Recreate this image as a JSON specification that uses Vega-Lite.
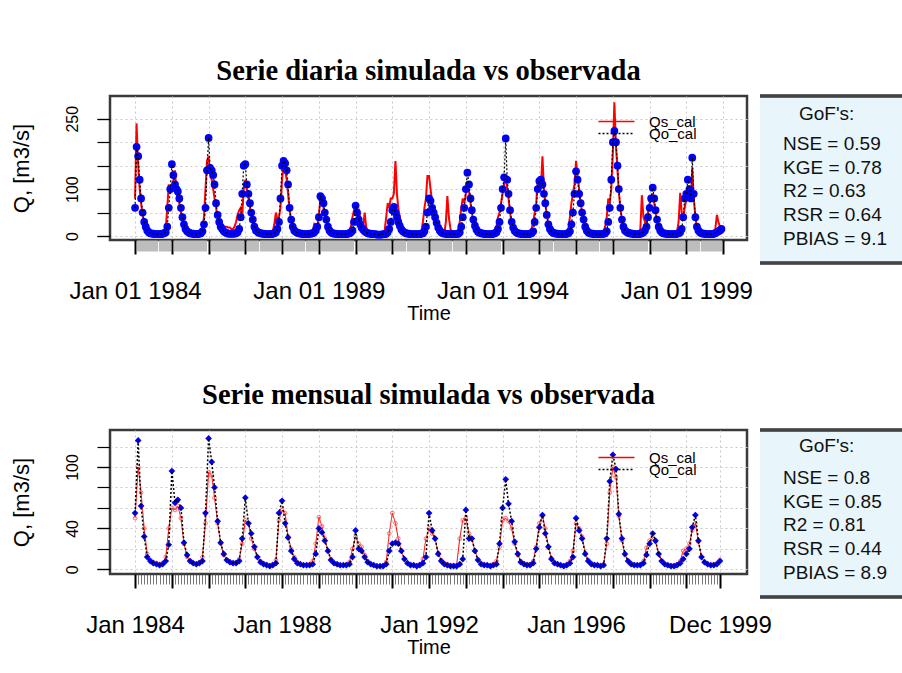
{
"$schema":"https://vega.github.io/schema/vega-lite/v6.json",
"background":"white",
"padding":{"left":8,"top":55,"right":0,"bottom":8},
"columns":2,
"spacing":{"row":167,"column":13},
"bounds":"flush",
"resolve":{"scale":{"color":"independent","strokeDash":"independent"}},
"config":{"font":"Liberation Sans","view":{"stroke":"#3a3a3a","strokeWidth":2.5},
"axis":{"labelFont":"Liberation Sans","titleFont":"Liberation Sans","labelColor":"black","titleColor":"black","titleFontWeight":"normal"}},
"datasets":{
"daily":[
{"date":"1984-01-01","Qs_cal":80,"Qo_cal":60},{"date":"1984-01-16","Qs_cal":240,"Qo_cal":190},{"date":"1984-02-01","Qs_cal":150,"Qo_cal":170},{"date":"1984-02-16","Qs_cal":100,"Qo_cal":120},{"date":"1984-03-01","Qs_cal":70,"Qo_cal":80},{"date":"1984-03-16","Qs_cal":45,"Qo_cal":50},{"date":"1984-04-01","Qs_cal":28,"Qo_cal":30},{"date":"1984-04-16","Qs_cal":18,"Qo_cal":20},{"date":"1984-05-01","Qs_cal":12,"Qo_cal":12},{"date":"1984-05-16","Qs_cal":9,"Qo_cal":8},{"date":"1984-06-01","Qs_cal":7,"Qo_cal":6},{"date":"1984-06-16","Qs_cal":6,"Qo_cal":5},{"date":"1984-07-01","Qs_cal":5,"Qo_cal":5},{"date":"1984-07-16","Qs_cal":5,"Qo_cal":4},{"date":"1984-08-01","Qs_cal":4,"Qo_cal":4},{"date":"1984-08-16","Qs_cal":4,"Qo_cal":4},{"date":"1984-09-01","Qs_cal":4,"Qo_cal":4},{"date":"1984-09-16","Qs_cal":5,"Qo_cal":4},{"date":"1984-10-01","Qs_cal":6,"Qo_cal":5},{"date":"1984-10-16","Qs_cal":8,"Qo_cal":6},{"date":"1984-11-01","Qs_cal":15,"Qo_cal":8},{"date":"1984-11-16","Qs_cal":60,"Qo_cal":20},{"date":"1984-12-01","Qs_cal":110,"Qo_cal":60},{"date":"1984-12-16","Qs_cal":90,"Qo_cal":100},
{"date":"1985-01-01","Qs_cal":100,"Qo_cal":153},{"date":"1985-01-16","Qs_cal":120,"Qo_cal":130},{"date":"1985-02-01","Qs_cal":140,"Qo_cal":110},{"date":"1985-02-16","Qs_cal":90,"Qo_cal":100},{"date":"1985-03-01","Qs_cal":80,"Qo_cal":95},{"date":"1985-03-16","Qs_cal":70,"Qo_cal":80},{"date":"1985-04-01","Qs_cal":50,"Qo_cal":60},{"date":"1985-04-16","Qs_cal":35,"Qo_cal":40},{"date":"1985-05-01","Qs_cal":22,"Qo_cal":25},{"date":"1985-05-16","Qs_cal":14,"Qo_cal":15},{"date":"1985-06-01","Qs_cal":10,"Qo_cal":10},{"date":"1985-06-16","Qs_cal":8,"Qo_cal":8},{"date":"1985-07-01","Qs_cal":6,"Qo_cal":6},{"date":"1985-07-16","Qs_cal":5,"Qo_cal":5},{"date":"1985-08-01","Qs_cal":5,"Qo_cal":5},{"date":"1985-08-16","Qs_cal":5,"Qo_cal":4},{"date":"1985-09-01","Qs_cal":5,"Qo_cal":4},{"date":"1985-09-16","Qs_cal":5,"Qo_cal":4},{"date":"1985-10-01","Qs_cal":6,"Qo_cal":5},{"date":"1985-10-16","Qs_cal":10,"Qo_cal":6},{"date":"1985-11-01","Qs_cal":20,"Qo_cal":10},{"date":"1985-11-16","Qs_cal":40,"Qo_cal":25},{"date":"1985-12-01","Qs_cal":100,"Qo_cal":60},{"date":"1985-12-16","Qs_cal":160,"Qo_cal":140},
{"date":"1986-01-01","Qs_cal":170,"Qo_cal":209},{"date":"1986-01-16","Qs_cal":130,"Qo_cal":145},{"date":"1986-02-01","Qs_cal":120,"Qo_cal":140},{"date":"1986-02-16","Qs_cal":100,"Qo_cal":130},{"date":"1986-03-01","Qs_cal":80,"Qo_cal":110},{"date":"1986-03-16","Qs_cal":60,"Qo_cal":70},{"date":"1986-04-01","Qs_cal":40,"Qo_cal":45},{"date":"1986-04-16","Qs_cal":30,"Qo_cal":30},{"date":"1986-05-01","Qs_cal":25,"Qo_cal":20},{"date":"1986-05-16","Qs_cal":20,"Qo_cal":15},{"date":"1986-06-01","Qs_cal":20,"Qo_cal":10},{"date":"1986-06-16","Qs_cal":20,"Qo_cal":8},{"date":"1986-07-01","Qs_cal":20,"Qo_cal":6},{"date":"1986-07-16","Qs_cal":18,"Qo_cal":5},{"date":"1986-08-01","Qs_cal":18,"Qo_cal":5},{"date":"1986-08-16","Qs_cal":15,"Qo_cal":5},{"date":"1986-09-01","Qs_cal":15,"Qo_cal":5},{"date":"1986-09-16","Qs_cal":20,"Qo_cal":5},{"date":"1986-10-01","Qs_cal":30,"Qo_cal":6},{"date":"1986-10-16","Qs_cal":45,"Qo_cal":8},{"date":"1986-11-01","Qs_cal":55,"Qo_cal":15},{"date":"1986-11-16","Qs_cal":60,"Qo_cal":40},{"date":"1986-12-01","Qs_cal":40,"Qo_cal":90},{"date":"1986-12-16","Qs_cal":100,"Qo_cal":150},
{"date":"1987-01-01","Qs_cal":120,"Qo_cal":153},{"date":"1987-01-16","Qs_cal":100,"Qo_cal":110},{"date":"1987-02-01","Qs_cal":80,"Qo_cal":90},{"date":"1987-02-16","Qs_cal":60,"Qo_cal":70},{"date":"1987-03-01","Qs_cal":45,"Qo_cal":50},{"date":"1987-03-16","Qs_cal":30,"Qo_cal":35},{"date":"1987-04-01","Qs_cal":20,"Qo_cal":20},{"date":"1987-04-16","Qs_cal":14,"Qo_cal":12},{"date":"1987-05-01","Qs_cal":10,"Qo_cal":9},{"date":"1987-05-16","Qs_cal":8,"Qo_cal":7},{"date":"1987-06-01","Qs_cal":7,"Qo_cal":6},{"date":"1987-06-16","Qs_cal":6,"Qo_cal":5},{"date":"1987-07-01","Qs_cal":5,"Qo_cal":5},{"date":"1987-07-16","Qs_cal":5,"Qo_cal":4},{"date":"1987-08-01","Qs_cal":5,"Qo_cal":4},{"date":"1987-08-16","Qs_cal":5,"Qo_cal":4},{"date":"1987-09-01","Qs_cal":5,"Qo_cal":4},{"date":"1987-09-16","Qs_cal":6,"Qo_cal":4},{"date":"1987-10-01","Qs_cal":10,"Qo_cal":5},{"date":"1987-10-16","Qs_cal":25,"Qo_cal":6},{"date":"1987-11-01","Qs_cal":50,"Qo_cal":8},{"date":"1987-11-16","Qs_cal":35,"Qo_cal":15},{"date":"1987-12-01","Qs_cal":40,"Qo_cal":30},{"date":"1987-12-16","Qs_cal":60,"Qo_cal":80},
{"date":"1988-01-01","Qs_cal":120,"Qo_cal":150},{"date":"1988-01-16","Qs_cal":150,"Qo_cal":160},{"date":"1988-02-01","Qs_cal":140,"Qo_cal":155},{"date":"1988-02-16","Qs_cal":120,"Qo_cal":140},{"date":"1988-03-01","Qs_cal":90,"Qo_cal":110},{"date":"1988-03-16","Qs_cal":55,"Qo_cal":60},{"date":"1988-04-01","Qs_cal":30,"Qo_cal":35},{"date":"1988-04-16","Qs_cal":20,"Qo_cal":20},{"date":"1988-05-01","Qs_cal":12,"Qo_cal":12},{"date":"1988-05-16","Qs_cal":9,"Qo_cal":9},{"date":"1988-06-01","Qs_cal":7,"Qo_cal":7},{"date":"1988-06-16","Qs_cal":6,"Qo_cal":6},{"date":"1988-07-01","Qs_cal":5,"Qo_cal":5},{"date":"1988-07-16","Qs_cal":5,"Qo_cal":5},{"date":"1988-08-01","Qs_cal":5,"Qo_cal":4},{"date":"1988-08-16","Qs_cal":4,"Qo_cal":4},{"date":"1988-09-01","Qs_cal":4,"Qo_cal":4},{"date":"1988-09-16","Qs_cal":5,"Qo_cal":4},{"date":"1988-10-01","Qs_cal":6,"Qo_cal":5},{"date":"1988-10-16","Qs_cal":8,"Qo_cal":5},{"date":"1988-11-01","Qs_cal":12,"Qo_cal":6},{"date":"1988-11-16","Qs_cal":25,"Qo_cal":8},{"date":"1988-12-01","Qs_cal":20,"Qo_cal":12},{"date":"1988-12-16","Qs_cal":15,"Qo_cal":20},
{"date":"1989-01-01","Qs_cal":45,"Qo_cal":40},{"date":"1989-01-16","Qs_cal":80,"Qo_cal":85},{"date":"1989-02-01","Qs_cal":75,"Qo_cal":80},{"date":"1989-02-16","Qs_cal":60,"Qo_cal":70},{"date":"1989-03-01","Qs_cal":45,"Qo_cal":50},{"date":"1989-03-16","Qs_cal":30,"Qo_cal":35},{"date":"1989-04-01","Qs_cal":18,"Qo_cal":20},{"date":"1989-04-16","Qs_cal":12,"Qo_cal":12},{"date":"1989-05-01","Qs_cal":8,"Qo_cal":8},{"date":"1989-05-16","Qs_cal":6,"Qo_cal":6},{"date":"1989-06-01","Qs_cal":5,"Qo_cal":5},{"date":"1989-06-16","Qs_cal":5,"Qo_cal":5},{"date":"1989-07-01","Qs_cal":4,"Qo_cal":4},{"date":"1989-07-16","Qs_cal":4,"Qo_cal":4},{"date":"1989-08-01","Qs_cal":4,"Qo_cal":4},{"date":"1989-08-16","Qs_cal":4,"Qo_cal":4},{"date":"1989-09-01","Qs_cal":4,"Qo_cal":4},{"date":"1989-09-16","Qs_cal":5,"Qo_cal":4},{"date":"1989-10-01","Qs_cal":5,"Qo_cal":4},{"date":"1989-10-16","Qs_cal":6,"Qo_cal":5},{"date":"1989-11-01","Qs_cal":10,"Qo_cal":6},{"date":"1989-11-16","Qs_cal":20,"Qo_cal":8},{"date":"1989-12-01","Qs_cal":40,"Qo_cal":12},{"date":"1989-12-16","Qs_cal":55,"Qo_cal":30},
{"date":"1990-01-01","Qs_cal":60,"Qo_cal":65},{"date":"1990-01-16","Qs_cal":50,"Qo_cal":50},{"date":"1990-02-01","Qs_cal":55,"Qo_cal":35},{"date":"1990-02-16","Qs_cal":40,"Qo_cal":25},{"date":"1990-03-01","Qs_cal":25,"Qo_cal":18},{"date":"1990-03-16","Qs_cal":18,"Qo_cal":14},{"date":"1990-04-01","Qs_cal":50,"Qo_cal":10},{"date":"1990-04-16","Qs_cal":20,"Qo_cal":8},{"date":"1990-05-01","Qs_cal":7,"Qo_cal":6},{"date":"1990-05-16","Qs_cal":6,"Qo_cal":5},{"date":"1990-06-01","Qs_cal":5,"Qo_cal":5},{"date":"1990-06-16","Qs_cal":5,"Qo_cal":4},{"date":"1990-07-01","Qs_cal":4,"Qo_cal":4},{"date":"1990-07-16","Qs_cal":4,"Qo_cal":4},{"date":"1990-08-01","Qs_cal":4,"Qo_cal":3},{"date":"1990-08-16","Qs_cal":4,"Qo_cal":3},{"date":"1990-09-01","Qs_cal":4,"Qo_cal":3},{"date":"1990-09-16","Qs_cal":5,"Qo_cal":3},{"date":"1990-10-01","Qs_cal":6,"Qo_cal":4},{"date":"1990-10-16","Qs_cal":10,"Qo_cal":4},{"date":"1990-11-01","Qs_cal":40,"Qo_cal":5},{"date":"1990-11-16","Qs_cal":70,"Qo_cal":8},{"date":"1990-12-01","Qs_cal":60,"Qo_cal":15},{"date":"1990-12-16","Qs_cal":80,"Qo_cal":30},
{"date":"1991-01-01","Qs_cal":80,"Qo_cal":55},{"date":"1991-01-16","Qs_cal":90,"Qo_cal":62},{"date":"1991-02-01","Qs_cal":160,"Qo_cal":50},{"date":"1991-02-16","Qs_cal":90,"Qo_cal":40},{"date":"1991-03-01","Qs_cal":60,"Qo_cal":30},{"date":"1991-03-16","Qs_cal":40,"Qo_cal":22},{"date":"1991-04-01","Qs_cal":25,"Qo_cal":14},{"date":"1991-04-16","Qs_cal":15,"Qo_cal":10},{"date":"1991-05-01","Qs_cal":10,"Qo_cal":8},{"date":"1991-05-16","Qs_cal":8,"Qo_cal":6},{"date":"1991-06-01","Qs_cal":6,"Qo_cal":5},{"date":"1991-06-16","Qs_cal":5,"Qo_cal":5},{"date":"1991-07-01","Qs_cal":5,"Qo_cal":4},{"date":"1991-07-16","Qs_cal":5,"Qo_cal":4},{"date":"1991-08-01","Qs_cal":4,"Qo_cal":4},{"date":"1991-08-16","Qs_cal":4,"Qo_cal":4},{"date":"1991-09-01","Qs_cal":4,"Qo_cal":4},{"date":"1991-09-16","Qs_cal":5,"Qo_cal":4},{"date":"1991-10-01","Qs_cal":6,"Qo_cal":4},{"date":"1991-10-16","Qs_cal":10,"Qo_cal":5},{"date":"1991-11-01","Qs_cal":30,"Qo_cal":6},{"date":"1991-11-16","Qs_cal":60,"Qo_cal":10},{"date":"1991-12-01","Qs_cal":80,"Qo_cal":20},{"date":"1991-12-16","Qs_cal":128,"Qo_cal":50},
{"date":"1992-01-01","Qs_cal":128,"Qo_cal":80},{"date":"1992-01-16","Qs_cal":100,"Qo_cal":75},{"date":"1992-02-01","Qs_cal":70,"Qo_cal":60},{"date":"1992-02-16","Qs_cal":55,"Qo_cal":50},{"date":"1992-03-01","Qs_cal":40,"Qo_cal":40},{"date":"1992-03-16","Qs_cal":28,"Qo_cal":28},{"date":"1992-04-01","Qs_cal":18,"Qo_cal":18},{"date":"1992-04-16","Qs_cal":12,"Qo_cal":12},{"date":"1992-05-01","Qs_cal":8,"Qo_cal":8},{"date":"1992-05-16","Qs_cal":7,"Qo_cal":6},{"date":"1992-06-01","Qs_cal":6,"Qo_cal":5},{"date":"1992-06-16","Qs_cal":30,"Qo_cal":5},{"date":"1992-07-01","Qs_cal":85,"Qo_cal":4},{"date":"1992-07-16","Qs_cal":40,"Qo_cal":4},{"date":"1992-08-01","Qs_cal":15,"Qo_cal":4},{"date":"1992-08-16","Qs_cal":8,"Qo_cal":4},{"date":"1992-09-01","Qs_cal":6,"Qo_cal":4},{"date":"1992-09-16","Qs_cal":6,"Qo_cal":4},{"date":"1992-10-01","Qs_cal":8,"Qo_cal":4},{"date":"1992-10-16","Qs_cal":12,"Qo_cal":5},{"date":"1992-11-01","Qs_cal":30,"Qo_cal":8},{"date":"1992-11-16","Qs_cal":60,"Qo_cal":20},{"date":"1992-12-01","Qs_cal":80,"Qo_cal":40},{"date":"1992-12-16","Qs_cal":70,"Qo_cal":60},
{"date":"1993-01-01","Qs_cal":90,"Qo_cal":100},{"date":"1993-01-16","Qs_cal":110,"Qo_cal":135},{"date":"1993-02-01","Qs_cal":95,"Qo_cal":110},{"date":"1993-02-16","Qs_cal":70,"Qo_cal":80},{"date":"1993-03-01","Qs_cal":50,"Qo_cal":55},{"date":"1993-03-16","Qs_cal":32,"Qo_cal":35},{"date":"1993-04-01","Qs_cal":20,"Qo_cal":22},{"date":"1993-04-16","Qs_cal":13,"Qo_cal":14},{"date":"1993-05-01","Qs_cal":9,"Qo_cal":9},{"date":"1993-05-16","Qs_cal":7,"Qo_cal":7},{"date":"1993-06-01","Qs_cal":6,"Qo_cal":6},{"date":"1993-06-16","Qs_cal":5,"Qo_cal":5},{"date":"1993-07-01","Qs_cal":5,"Qo_cal":5},{"date":"1993-07-16","Qs_cal":5,"Qo_cal":4},{"date":"1993-08-01","Qs_cal":4,"Qo_cal":4},{"date":"1993-08-16","Qs_cal":4,"Qo_cal":4},{"date":"1993-09-01","Qs_cal":4,"Qo_cal":4},{"date":"1993-09-16","Qs_cal":5,"Qo_cal":4},{"date":"1993-10-01","Qs_cal":6,"Qo_cal":5},{"date":"1993-10-16","Qs_cal":10,"Qo_cal":6},{"date":"1993-11-01","Qs_cal":20,"Qo_cal":8},{"date":"1993-11-16","Qs_cal":40,"Qo_cal":15},{"date":"1993-12-01","Qs_cal":50,"Qo_cal":30},{"date":"1993-12-16","Qs_cal":70,"Qo_cal":60},
{"date":"1994-01-01","Qs_cal":90,"Qo_cal":100},{"date":"1994-01-16","Qs_cal":110,"Qo_cal":125},{"date":"1994-02-01","Qs_cal":130,"Qo_cal":208},{"date":"1994-02-16","Qs_cal":100,"Qo_cal":120},{"date":"1994-03-01","Qs_cal":80,"Qo_cal":90},{"date":"1994-03-16","Qs_cal":50,"Qo_cal":55},{"date":"1994-04-01","Qs_cal":28,"Qo_cal":30},{"date":"1994-04-16","Qs_cal":17,"Qo_cal":18},{"date":"1994-05-01","Qs_cal":11,"Qo_cal":11},{"date":"1994-05-16","Qs_cal":8,"Qo_cal":8},{"date":"1994-06-01","Qs_cal":6,"Qo_cal":6},{"date":"1994-06-16","Qs_cal":5,"Qo_cal":5},{"date":"1994-07-01","Qs_cal":5,"Qo_cal":5},{"date":"1994-07-16","Qs_cal":5,"Qo_cal":4},{"date":"1994-08-01","Qs_cal":4,"Qo_cal":4},{"date":"1994-08-16","Qs_cal":4,"Qo_cal":4},{"date":"1994-09-01","Qs_cal":5,"Qo_cal":4},{"date":"1994-09-16","Qs_cal":6,"Qo_cal":4},{"date":"1994-10-01","Qs_cal":8,"Qo_cal":5},{"date":"1994-10-16","Qs_cal":15,"Qo_cal":6},{"date":"1994-11-01","Qs_cal":30,"Qo_cal":10},{"date":"1994-11-16","Qs_cal":50,"Qo_cal":30},{"date":"1994-12-01","Qs_cal":70,"Qo_cal":60},{"date":"1994-12-16","Qs_cal":120,"Qo_cal":100},
{"date":"1995-01-01","Qs_cal":120,"Qo_cal":117},{"date":"1995-01-16","Qs_cal":100,"Qo_cal":120},{"date":"1995-02-01","Qs_cal":170,"Qo_cal":110},{"date":"1995-02-16","Qs_cal":100,"Qo_cal":90},{"date":"1995-03-01","Qs_cal":70,"Qo_cal":70},{"date":"1995-03-16","Qs_cal":45,"Qo_cal":45},{"date":"1995-04-01","Qs_cal":25,"Qo_cal":25},{"date":"1995-04-16","Qs_cal":15,"Qo_cal":15},{"date":"1995-05-01","Qs_cal":10,"Qo_cal":10},{"date":"1995-05-16","Qs_cal":7,"Qo_cal":7},{"date":"1995-06-01","Qs_cal":6,"Qo_cal":6},{"date":"1995-06-16","Qs_cal":5,"Qo_cal":5},{"date":"1995-07-01","Qs_cal":5,"Qo_cal":5},{"date":"1995-07-16","Qs_cal":5,"Qo_cal":4},{"date":"1995-08-01","Qs_cal":4,"Qo_cal":4},{"date":"1995-08-16","Qs_cal":4,"Qo_cal":4},{"date":"1995-09-01","Qs_cal":5,"Qo_cal":4},{"date":"1995-09-16","Qs_cal":6,"Qo_cal":4},{"date":"1995-10-01","Qs_cal":8,"Qo_cal":5},{"date":"1995-10-16","Qs_cal":15,"Qo_cal":6},{"date":"1995-11-01","Qs_cal":40,"Qo_cal":10},{"date":"1995-11-16","Qs_cal":70,"Qo_cal":25},{"date":"1995-12-01","Qs_cal":90,"Qo_cal":50},{"date":"1995-12-16","Qs_cal":110,"Qo_cal":90},
{"date":"1996-01-01","Qs_cal":160,"Qo_cal":138},{"date":"1996-01-16","Qs_cal":128,"Qo_cal":120},{"date":"1996-02-01","Qs_cal":100,"Qo_cal":90},{"date":"1996-02-16","Qs_cal":70,"Qo_cal":70},{"date":"1996-03-01","Qs_cal":50,"Qo_cal":50},{"date":"1996-03-16","Qs_cal":35,"Qo_cal":35},{"date":"1996-04-01","Qs_cal":20,"Qo_cal":20},{"date":"1996-04-16","Qs_cal":12,"Qo_cal":12},{"date":"1996-05-01","Qs_cal":8,"Qo_cal":8},{"date":"1996-05-16","Qs_cal":6,"Qo_cal":6},{"date":"1996-06-01","Qs_cal":5,"Qo_cal":5},{"date":"1996-06-16","Qs_cal":5,"Qo_cal":5},{"date":"1996-07-01","Qs_cal":4,"Qo_cal":4},{"date":"1996-07-16","Qs_cal":4,"Qo_cal":4},{"date":"1996-08-01","Qs_cal":4,"Qo_cal":4},{"date":"1996-08-16","Qs_cal":4,"Qo_cal":4},{"date":"1996-09-01","Qs_cal":5,"Qo_cal":4},{"date":"1996-09-16","Qs_cal":6,"Qo_cal":4},{"date":"1996-10-01","Qs_cal":10,"Qo_cal":5},{"date":"1996-10-16","Qs_cal":20,"Qo_cal":6},{"date":"1996-11-01","Qs_cal":40,"Qo_cal":10},{"date":"1996-11-16","Qs_cal":80,"Qo_cal":30},{"date":"1996-12-01","Qs_cal":70,"Qo_cal":60},{"date":"1996-12-16","Qs_cal":100,"Qo_cal":120},
{"date":"1997-01-01","Qs_cal":180,"Qo_cal":200},{"date":"1997-01-16","Qs_cal":285,"Qo_cal":224},{"date":"1997-02-01","Qs_cal":190,"Qo_cal":200},{"date":"1997-02-16","Qs_cal":140,"Qo_cal":150},{"date":"1997-03-01","Qs_cal":95,"Qo_cal":100},{"date":"1997-03-16","Qs_cal":60,"Qo_cal":60},{"date":"1997-04-01","Qs_cal":35,"Qo_cal":35},{"date":"1997-04-16","Qs_cal":20,"Qo_cal":20},{"date":"1997-05-01","Qs_cal":12,"Qo_cal":12},{"date":"1997-05-16","Qs_cal":9,"Qo_cal":9},{"date":"1997-06-01","Qs_cal":7,"Qo_cal":7},{"date":"1997-06-16","Qs_cal":6,"Qo_cal":6},{"date":"1997-07-01","Qs_cal":5,"Qo_cal":5},{"date":"1997-07-16","Qs_cal":5,"Qo_cal":5},{"date":"1997-08-01","Qs_cal":5,"Qo_cal":4},{"date":"1997-08-16","Qs_cal":5,"Qo_cal":4},{"date":"1997-09-01","Qs_cal":6,"Qo_cal":4},{"date":"1997-09-16","Qs_cal":8,"Qo_cal":4},{"date":"1997-10-01","Qs_cal":15,"Qo_cal":5},{"date":"1997-10-16","Qs_cal":87,"Qo_cal":6},{"date":"1997-11-01","Qs_cal":40,"Qo_cal":8},{"date":"1997-11-16","Qs_cal":30,"Qo_cal":12},{"date":"1997-12-01","Qs_cal":30,"Qo_cal":20},{"date":"1997-12-16","Qs_cal":50,"Qo_cal":40},
{"date":"1998-01-01","Qs_cal":70,"Qo_cal":60},{"date":"1998-01-16","Qs_cal":80,"Qo_cal":80},{"date":"1998-02-01","Qs_cal":90,"Qo_cal":103},{"date":"1998-02-16","Qs_cal":70,"Qo_cal":80},{"date":"1998-03-01","Qs_cal":50,"Qo_cal":55},{"date":"1998-03-16","Qs_cal":32,"Qo_cal":35},{"date":"1998-04-01","Qs_cal":18,"Qo_cal":20},{"date":"1998-04-16","Qs_cal":12,"Qo_cal":12},{"date":"1998-05-01","Qs_cal":8,"Qo_cal":8},{"date":"1998-05-16","Qs_cal":6,"Qo_cal":6},{"date":"1998-06-01","Qs_cal":5,"Qo_cal":5},{"date":"1998-06-16","Qs_cal":5,"Qo_cal":5},{"date":"1998-07-01","Qs_cal":4,"Qo_cal":4},{"date":"1998-07-16","Qs_cal":4,"Qo_cal":4},{"date":"1998-08-01","Qs_cal":4,"Qo_cal":4},{"date":"1998-08-16","Qs_cal":4,"Qo_cal":4},{"date":"1998-09-01","Qs_cal":5,"Qo_cal":4},{"date":"1998-09-16","Qs_cal":6,"Qo_cal":4},{"date":"1998-10-01","Qs_cal":10,"Qo_cal":5},{"date":"1998-10-16","Qs_cal":30,"Qo_cal":6},{"date":"1998-11-01","Qs_cal":92,"Qo_cal":8},{"date":"1998-11-16","Qs_cal":50,"Qo_cal":15},{"date":"1998-12-01","Qs_cal":40,"Qo_cal":40},{"date":"1998-12-16","Qs_cal":60,"Qo_cal":80},
{"date":"1999-01-01","Qs_cal":80,"Qo_cal":90},{"date":"1999-01-16","Qs_cal":100,"Qo_cal":120},{"date":"1999-02-01","Qs_cal":90,"Qo_cal":100},{"date":"1999-02-16","Qs_cal":80,"Qo_cal":80},{"date":"1999-03-01","Qs_cal":145,"Qo_cal":167},{"date":"1999-03-16","Qs_cal":80,"Qo_cal":90},{"date":"1999-04-01","Qs_cal":40,"Qo_cal":40},{"date":"1999-04-16","Qs_cal":20,"Qo_cal":20},{"date":"1999-05-01","Qs_cal":12,"Qo_cal":12},{"date":"1999-05-16","Qs_cal":8,"Qo_cal":8},{"date":"1999-06-01","Qs_cal":6,"Qo_cal":6},{"date":"1999-06-16","Qs_cal":5,"Qo_cal":5},{"date":"1999-07-01","Qs_cal":5,"Qo_cal":5},{"date":"1999-07-16","Qs_cal":4,"Qo_cal":4},{"date":"1999-08-01","Qs_cal":4,"Qo_cal":4},{"date":"1999-08-16","Qs_cal":4,"Qo_cal":4},{"date":"1999-09-01","Qs_cal":5,"Qo_cal":4},{"date":"1999-09-16","Qs_cal":6,"Qo_cal":4},{"date":"1999-10-01","Qs_cal":8,"Qo_cal":5},{"date":"1999-10-16","Qs_cal":15,"Qo_cal":6},{"date":"1999-11-01","Qs_cal":45,"Qo_cal":8},{"date":"1999-11-16","Qs_cal":30,"Qo_cal":10},{"date":"1999-12-01","Qs_cal":20,"Qo_cal":12},{"date":"1999-12-16","Qs_cal":15,"Qo_cal":15}
],
"monthly":[
{"date":"1984-01-01","Qs_cal":50,"Qo_cal":55},{"date":"1984-02-01","Qs_cal":100,"Qo_cal":126},{"date":"1984-03-01","Qs_cal":75,"Qo_cal":62},{"date":"1984-04-01","Qs_cal":40,"Qo_cal":32},{"date":"1984-05-01","Qs_cal":15,"Qo_cal":12},{"date":"1984-06-01","Qs_cal":9,"Qo_cal":8},{"date":"1984-07-01","Qs_cal":7,"Qo_cal":6},{"date":"1984-08-01","Qs_cal":6,"Qo_cal":5},{"date":"1984-09-01","Qs_cal":5,"Qo_cal":4},{"date":"1984-10-01","Qs_cal":6,"Qo_cal":5},{"date":"1984-11-01","Qs_cal":12,"Qo_cal":8},{"date":"1984-12-01","Qs_cal":40,"Qo_cal":24},
{"date":"1985-01-01","Qs_cal":60,"Qo_cal":96},{"date":"1985-02-01","Qs_cal":58,"Qo_cal":65},{"date":"1985-03-01","Qs_cal":62,"Qo_cal":68},{"date":"1985-04-01","Qs_cal":50,"Qo_cal":60},{"date":"1985-05-01","Qs_cal":25,"Qo_cal":26},{"date":"1985-06-01","Qs_cal":12,"Qo_cal":14},{"date":"1985-07-01","Qs_cal":8,"Qo_cal":8},{"date":"1985-08-01","Qs_cal":6,"Qo_cal":6},{"date":"1985-09-01","Qs_cal":5,"Qo_cal":5},{"date":"1985-10-01","Qs_cal":7,"Qo_cal":6},{"date":"1985-11-01","Qs_cal":12,"Qo_cal":8},{"date":"1985-12-01","Qs_cal":45,"Qo_cal":55},
{"date":"1986-01-01","Qs_cal":95,"Qo_cal":128},{"date":"1986-02-01","Qs_cal":92,"Qo_cal":105},{"date":"1986-03-01","Qs_cal":70,"Qo_cal":80},{"date":"1986-04-01","Qs_cal":45,"Qo_cal":47},{"date":"1986-05-01","Qs_cal":25,"Qo_cal":26},{"date":"1986-06-01","Qs_cal":14,"Qo_cal":15},{"date":"1986-07-01","Qs_cal":9,"Qo_cal":9},{"date":"1986-08-01","Qs_cal":7,"Qo_cal":7},{"date":"1986-09-01","Qs_cal":6,"Qo_cal":6},{"date":"1986-10-01","Qs_cal":7,"Qo_cal":6},{"date":"1986-11-01","Qs_cal":10,"Qo_cal":8},{"date":"1986-12-01","Qs_cal":25,"Qo_cal":30},
{"date":"1987-01-01","Qs_cal":48,"Qo_cal":70},{"date":"1987-02-01","Qs_cal":45,"Qo_cal":45},{"date":"1987-03-01","Qs_cal":30,"Qo_cal":35},{"date":"1987-04-01","Qs_cal":20,"Qo_cal":22},{"date":"1987-05-01","Qs_cal":12,"Qo_cal":12},{"date":"1987-06-01","Qs_cal":8,"Qo_cal":7},{"date":"1987-07-01","Qs_cal":6,"Qo_cal":5},{"date":"1987-08-01","Qs_cal":5,"Qo_cal":4},{"date":"1987-09-01","Qs_cal":4,"Qo_cal":3},{"date":"1987-10-01","Qs_cal":5,"Qo_cal":4},{"date":"1987-11-01","Qs_cal":9,"Qo_cal":6},{"date":"1987-12-01","Qs_cal":48,"Qo_cal":55},
{"date":"1988-01-01","Qs_cal":58,"Qo_cal":67},{"date":"1988-02-01","Qs_cal":55,"Qo_cal":45},{"date":"1988-03-01","Qs_cal":32,"Qo_cal":31},{"date":"1988-04-01","Qs_cal":20,"Qo_cal":18},{"date":"1988-05-01","Qs_cal":12,"Qo_cal":10},{"date":"1988-06-01","Qs_cal":7,"Qo_cal":6},{"date":"1988-07-01","Qs_cal":5,"Qo_cal":5},{"date":"1988-08-01","Qs_cal":4,"Qo_cal":4},{"date":"1988-09-01","Qs_cal":4,"Qo_cal":4},{"date":"1988-10-01","Qs_cal":5,"Qo_cal":4},{"date":"1988-11-01","Qs_cal":8,"Qo_cal":5},{"date":"1988-12-01","Qs_cal":25,"Qo_cal":15},
{"date":"1989-01-01","Qs_cal":51,"Qo_cal":40},{"date":"1989-02-01","Qs_cal":42,"Qo_cal":36},{"date":"1989-03-01","Qs_cal":30,"Qo_cal":28},{"date":"1989-04-01","Qs_cal":18,"Qo_cal":18},{"date":"1989-05-01","Qs_cal":10,"Qo_cal":9},{"date":"1989-06-01","Qs_cal":6,"Qo_cal":6},{"date":"1989-07-01","Qs_cal":5,"Qo_cal":5},{"date":"1989-08-01","Qs_cal":4,"Qo_cal":4},{"date":"1989-09-01","Qs_cal":4,"Qo_cal":4},{"date":"1989-10-01","Qs_cal":5,"Qo_cal":4},{"date":"1989-11-01","Qs_cal":7,"Qo_cal":5},{"date":"1989-12-01","Qs_cal":20,"Qo_cal":12},
{"date":"1990-01-01","Qs_cal":32,"Qo_cal":38},{"date":"1990-02-01","Qs_cal":25,"Qo_cal":20},{"date":"1990-03-01","Qs_cal":22,"Qo_cal":18},{"date":"1990-04-01","Qs_cal":14,"Qo_cal":12},{"date":"1990-05-01","Qs_cal":8,"Qo_cal":7},{"date":"1990-06-01","Qs_cal":5,"Qo_cal":5},{"date":"1990-07-01","Qs_cal":4,"Qo_cal":4},{"date":"1990-08-01","Qs_cal":3,"Qo_cal":3},{"date":"1990-09-01","Qs_cal":3,"Qo_cal":3},{"date":"1990-10-01","Qs_cal":4,"Qo_cal":3},{"date":"1990-11-01","Qs_cal":7,"Qo_cal":5},{"date":"1990-12-01","Qs_cal":35,"Qo_cal":18},
{"date":"1991-01-01","Qs_cal":55,"Qo_cal":25},{"date":"1991-02-01","Qs_cal":45,"Qo_cal":26},{"date":"1991-03-01","Qs_cal":30,"Qo_cal":25},{"date":"1991-04-01","Qs_cal":18,"Qo_cal":18},{"date":"1991-05-01","Qs_cal":10,"Qo_cal":10},{"date":"1991-06-01","Qs_cal":6,"Qo_cal":6},{"date":"1991-07-01","Qs_cal":5,"Qo_cal":4},{"date":"1991-08-01","Qs_cal":4,"Qo_cal":4},{"date":"1991-09-01","Qs_cal":4,"Qo_cal":3},{"date":"1991-10-01","Qs_cal":5,"Qo_cal":4},{"date":"1991-11-01","Qs_cal":10,"Qo_cal":6},{"date":"1991-12-01","Qs_cal":30,"Qo_cal":12},
{"date":"1992-01-01","Qs_cal":40,"Qo_cal":55},{"date":"1992-02-01","Qs_cal":35,"Qo_cal":38},{"date":"1992-03-01","Qs_cal":30,"Qo_cal":30},{"date":"1992-04-01","Qs_cal":16,"Qo_cal":15},{"date":"1992-05-01","Qs_cal":9,"Qo_cal":8},{"date":"1992-06-01","Qs_cal":6,"Qo_cal":5},{"date":"1992-07-01","Qs_cal":5,"Qo_cal":4},{"date":"1992-08-01","Qs_cal":4,"Qo_cal":3},{"date":"1992-09-01","Qs_cal":4,"Qo_cal":3},{"date":"1992-10-01","Qs_cal":4,"Qo_cal":3},{"date":"1992-11-01","Qs_cal":30,"Qo_cal":5},{"date":"1992-12-01","Qs_cal":48,"Qo_cal":10},
{"date":"1993-01-01","Qs_cal":50,"Qo_cal":58},{"date":"1993-02-01","Qs_cal":35,"Qo_cal":30},{"date":"1993-03-01","Qs_cal":30,"Qo_cal":30},{"date":"1993-04-01","Qs_cal":18,"Qo_cal":18},{"date":"1993-05-01","Qs_cal":10,"Qo_cal":9},{"date":"1993-06-01","Qs_cal":6,"Qo_cal":5},{"date":"1993-07-01","Qs_cal":5,"Qo_cal":4},{"date":"1993-08-01","Qs_cal":4,"Qo_cal":4},{"date":"1993-09-01","Qs_cal":4,"Qo_cal":3},{"date":"1993-10-01","Qs_cal":5,"Qo_cal":4},{"date":"1993-11-01","Qs_cal":8,"Qo_cal":5},{"date":"1993-12-01","Qs_cal":22,"Qo_cal":25},
{"date":"1994-01-01","Qs_cal":48,"Qo_cal":60},{"date":"1994-02-01","Qs_cal":50,"Qo_cal":88},{"date":"1994-03-01","Qs_cal":47,"Qo_cal":64},{"date":"1994-04-01","Qs_cal":40,"Qo_cal":47},{"date":"1994-05-01","Qs_cal":25,"Qo_cal":27},{"date":"1994-06-01","Qs_cal":14,"Qo_cal":15},{"date":"1994-07-01","Qs_cal":8,"Qo_cal":7},{"date":"1994-08-01","Qs_cal":6,"Qo_cal":5},{"date":"1994-09-01","Qs_cal":5,"Qo_cal":4},{"date":"1994-10-01","Qs_cal":5,"Qo_cal":4},{"date":"1994-11-01","Qs_cal":8,"Qo_cal":6},{"date":"1994-12-01","Qs_cal":22,"Qo_cal":20},
{"date":"1995-01-01","Qs_cal":45,"Qo_cal":41},{"date":"1995-02-01","Qs_cal":52,"Qo_cal":53},{"date":"1995-03-01","Qs_cal":40,"Qo_cal":35},{"date":"1995-04-01","Qs_cal":22,"Qo_cal":22},{"date":"1995-05-01","Qs_cal":11,"Qo_cal":10},{"date":"1995-06-01","Qs_cal":7,"Qo_cal":6},{"date":"1995-07-01","Qs_cal":5,"Qo_cal":5},{"date":"1995-08-01","Qs_cal":4,"Qo_cal":4},{"date":"1995-09-01","Qs_cal":4,"Qo_cal":3},{"date":"1995-10-01","Qs_cal":5,"Qo_cal":4},{"date":"1995-11-01","Qs_cal":8,"Qo_cal":6},{"date":"1995-12-01","Qs_cal":18,"Qo_cal":12},
{"date":"1996-01-01","Qs_cal":45,"Qo_cal":50},{"date":"1996-02-01","Qs_cal":40,"Qo_cal":38},{"date":"1996-03-01","Qs_cal":32,"Qo_cal":30},{"date":"1996-04-01","Qs_cal":16,"Qo_cal":15},{"date":"1996-05-01","Qs_cal":9,"Qo_cal":8},{"date":"1996-06-01","Qs_cal":6,"Qo_cal":5},{"date":"1996-07-01","Qs_cal":5,"Qo_cal":4},{"date":"1996-08-01","Qs_cal":4,"Qo_cal":4},{"date":"1996-09-01","Qs_cal":4,"Qo_cal":3},{"date":"1996-10-01","Qs_cal":5,"Qo_cal":4},{"date":"1996-11-01","Qs_cal":25,"Qo_cal":30},{"date":"1996-12-01","Qs_cal":75,"Qo_cal":86},
{"date":"1997-01-01","Qs_cal":100,"Qo_cal":112},{"date":"1997-02-01","Qs_cal":90,"Qo_cal":98},{"date":"1997-03-01","Qs_cal":52,"Qo_cal":54},{"date":"1997-04-01","Qs_cal":28,"Qo_cal":30},{"date":"1997-05-01","Qs_cal":14,"Qo_cal":15},{"date":"1997-06-01","Qs_cal":8,"Qo_cal":8},{"date":"1997-07-01","Qs_cal":6,"Qo_cal":5},{"date":"1997-08-01","Qs_cal":5,"Qo_cal":4},{"date":"1997-09-01","Qs_cal":4,"Qo_cal":4},{"date":"1997-10-01","Qs_cal":5,"Qo_cal":4},{"date":"1997-11-01","Qs_cal":8,"Qo_cal":6},{"date":"1997-12-01","Qs_cal":21,"Qo_cal":14},
{"date":"1998-01-01","Qs_cal":28,"Qo_cal":25},{"date":"1998-02-01","Qs_cal":30,"Qo_cal":35},{"date":"1998-03-01","Qs_cal":27,"Qo_cal":28},{"date":"1998-04-01","Qs_cal":15,"Qo_cal":15},{"date":"1998-05-01","Qs_cal":8,"Qo_cal":8},{"date":"1998-06-01","Qs_cal":5,"Qo_cal":5},{"date":"1998-07-01","Qs_cal":4,"Qo_cal":4},{"date":"1998-08-01","Qs_cal":4,"Qo_cal":3},{"date":"1998-09-01","Qs_cal":4,"Qo_cal":3},{"date":"1998-10-01","Qs_cal":5,"Qo_cal":4},{"date":"1998-11-01","Qs_cal":8,"Qo_cal":6},{"date":"1998-12-01","Qs_cal":18,"Qo_cal":10},
{"date":"1999-01-01","Qs_cal":20,"Qo_cal":15},{"date":"1999-02-01","Qs_cal":25,"Qo_cal":20},{"date":"1999-03-01","Qs_cal":38,"Qo_cal":41},{"date":"1999-04-01","Qs_cal":45,"Qo_cal":53},{"date":"1999-05-01","Qs_cal":27,"Qo_cal":28},{"date":"1999-06-01","Qs_cal":12,"Qo_cal":12},{"date":"1999-07-01","Qs_cal":7,"Qo_cal":7},{"date":"1999-08-01","Qs_cal":5,"Qo_cal":5},{"date":"1999-09-01","Qs_cal":4,"Qo_cal":4},{"date":"1999-10-01","Qs_cal":5,"Qo_cal":4},{"date":"1999-11-01","Qs_cal":6,"Qo_cal":5},{"date":"1999-12-01","Qs_cal":9,"Qo_cal":8}
],
"gof1":[{"line":"GoF's:"},{"line":"NSE = 0.59"},{"line":"KGE = 0.78"},{"line":"R2 = 0.63"},{"line":"RSR = 0.64"},{"line":"PBIAS = 9.1"}],
"gof2":[{"line":"GoF's:"},{"line":"NSE = 0.8"},{"line":"KGE = 0.85"},{"line":"R2 = 0.81"},{"line":"RSR = 0.44"},{"line":"PBIAS = 8.9"}]
},
"concat":[
{
"width":637,"height":144,
"data":{"name":"daily"},
"title":{"text":"Serie diaria simulada vs observada","font":"Liberation Serif","fontSize":28.5,"fontWeight":"bold","color":"black","offset":11,"anchor":"middle"},
"encoding":{"x":{"field":"date","type":"temporal","scale":{"type":"utc","domain":[{"year":1983,"month":4,"date":27,"utc":true},{"year":2000,"month":8,"date":26,"utc":true}]},
"axis":{"tickCount":{"interval":"month","step":1},"domain":false,"title":"Time","titleFontSize":20,"titlePadding":0,"labelFontSize":24,"labelPadding":25,"labelOverlap":false,"labelFlush":false,
"labelExpr":"utcmonth(datum.value)==0 && indexof([1984,1989,1994,1999], utcyear(datum.value))>=0 ? utcFormat(datum.value,'%b %d %Y') : ''",
"tickColor":{"condition":{"test":"utcmonth(datum.value)==0","value":"black"},"value":"#bdbdbd"},
"tickWidth":{"condition":{"test":"utcmonth(datum.value)==0","value":2},"value":3.2},
"tickSize":{"condition":{"test":"utcmonth(datum.value)==0","value":14},"value":11},
"tickOpacity":{"condition":{"test":"datum.value < utc(1984,0,1) || datum.value > utc(2000,0,2)","value":0},"value":1},
"grid":true,"gridColor":"#c8c8c8","gridDash":[2,3],
"gridOpacity":{"condition":{"test":"utcmonth(datum.value)==0 && datum.value >= utc(1984,0,1) && datum.value <= utc(2000,0,2)","value":1},"value":0}}}},
"layer":[
{"mark":{"type":"line","strokeWidth":2,"clip":true},
"encoding":{"y":{"field":"Qs_cal","type":"quantitative","scale":{"domain":[-8.5,298.4],"nice":false,"zero":false},
"axis":{"title":"Q, [m3/s]","titleFontSize":22,"titlePadding":31,"values":[0,100,250],"grid":false,"orient":"left","labelOverlap":false,"labelAngle":270,"labelAlign":"center","labelBaseline":"bottom","labelFontSize":16,"labelPadding":17,"labelOffset":0,"tickSize":13,"tickColor":"black","tickWidth":1.2,"domain":false}},
"color":{"datum":"Qs_cal","scale":{"domain":["Qs_cal","Qo_cal"],"range":["#ff0000","#000000"]},"legend":{"values":["Qs_cal"],"orient":"none","legendX":499,"legendY":18,"title":null,"symbolType":"M-3,0H3","symbolSize":144,"symbolStrokeWidth":1.6,"labelFontSize":15,"labelOffset":25,"padding":0,"labelColor":"black","labelFont":"Liberation Sans"}},
"strokeDash":{"datum":"Qs_cal","scale":{"domain":["Qo_cal","Qs_cal"],"range":[[2,2],[1,0]]},"legend":{"values":["Qo_cal"],"orient":"none","legendX":499,"legendY":30,"title":null,"symbolType":"M-3,0H3","symbolSize":144,"symbolStrokeWidth":1.6,"symbolStrokeColor":"black","labelFontSize":15,"labelOffset":25,"padding":0,"labelColor":"black","labelFont":"Liberation Sans"}}}},
{"mark":{"type":"point","filled":true,"size":60,"color":"#0000ff","opacity":1,"clip":true},"encoding":{"y":{"field":"Qo_cal","type":"quantitative","axis":null}}},
{"mark":{"type":"line","strokeWidth":1.2,"clip":true},"encoding":{"y":{"field":"Qo_cal","type":"quantitative","axis":{"title":null,"values":[0,50,100,150,200,250],"labels":false,"grid":true,"gridColor":"#c8c8c8","gridDash":[2,3],"orient":"left","tickSize":13,"tickColor":"black","tickWidth":1.2,"domain":false}},"color":{"datum":"Qo_cal"},"strokeDash":{"datum":"Qo_cal"}}}
],
"resolve":{"axis":{"y":"independent"}}
},
{
"width":142,"height":167,
"view":{"fill":"#e8f6fb","stroke":null},
"data":{"name":"gof1"},
"layer":[
{"layer":[
{"transform":[{"filter":"datum.line == \"GoF's:\""}],"mark":{"type":"text","align":"left","baseline":"middle","fontSize":19,"dx":-32,"dy":-6,"color":"#111"},"encoding":{"y":{"field":"line","type":"nominal","sort":null,"axis":null,"scale":{"type":"point","padding":1}},"text":{"field":"line"}}},
{"transform":[{"filter":"datum.line != \"GoF's:\""}],"mark":{"type":"text","align":"left","baseline":"middle","fontSize":19,"dx":-48,"color":"#111"},"encoding":{"y":{"field":"line","type":"nominal","sort":null,"axis":null},"text":{"field":"line"}}}
]},
{"layer":[
{"mark":{"type":"rule","color":"#444","strokeWidth":2.5},"encoding":{"y":{"datum":1,"type":"quantitative","scale":{"domain":[0,1]},"axis":null}}},
{"mark":{"type":"rule","color":"#444","strokeWidth":2.5},"encoding":{"y":{"datum":0,"type":"quantitative","axis":null}}}
]}
],
"resolve":{"scale":{"y":"independent"}}
},
{
"width":637,"height":144,
"data":{"name":"monthly"},
"title":{"text":"Serie mensual simulada vs observada","font":"Liberation Serif","fontSize":28.5,"fontWeight":"bold","color":"black","offset":21,"anchor":"middle"},
"encoding":{"x":{"field":"date","type":"temporal","scale":{"type":"utc","domain":[{"year":1983,"month":4,"date":27,"utc":true},{"year":2000,"month":8,"date":26,"utc":true}]},
"axis":{"tickCount":{"interval":"month","step":1},"domain":false,"title":"Time","titleFontSize":20,"titlePadding":0,"labelFontSize":24,"labelPadding":25,"labelOverlap":false,"labelFlush":false,
"labelExpr":"(utcmonth(datum.value)==0 && indexof([1984,1988,1992,1996], utcyear(datum.value))>=0) || (utcyear(datum.value)==1999 && utcmonth(datum.value)==11) ? utcFormat(datum.value,'%b %Y') : ''",
"tickColor":{"condition":{"test":"utcmonth(datum.value)==0 || (utcyear(datum.value)==1999 && utcmonth(datum.value)==11)","value":"black"},"value":"#555555"},
"tickWidth":{"condition":{"test":"utcmonth(datum.value)==0 || (utcyear(datum.value)==1999 && utcmonth(datum.value)==11)","value":2},"value":0.8},
"tickSize":{"condition":{"test":"utcmonth(datum.value)==0 || (utcyear(datum.value)==1999 && utcmonth(datum.value)==11)","value":14},"value":10},
"tickOpacity":{"condition":{"test":"datum.value < utc(1984,0,1) || datum.value > utc(1999,11,2)","value":0},"value":1},
"grid":true,"gridColor":"#c8c8c8","gridDash":[2,3],
"gridOpacity":{"condition":{"test":"(utcmonth(datum.value)==0 || (utcyear(datum.value)==1999 && utcmonth(datum.value)==11)) && datum.value >= utc(1984,0,1) && datum.value <= utc(1999,11,2)","value":1},"value":0}}}},
"layer":[
{"mark":{"type":"line","strokeWidth":1,"clip":true},
"encoding":{"y":{"field":"Qs_cal","type":"quantitative","scale":{"domain":[-4.6,136.2],"nice":false,"zero":false},
"axis":{"title":"Q, [m3/s]","titleFontSize":22,"titlePadding":31,"values":[0,40,100],"grid":false,"orient":"left","labelOverlap":false,"labelAngle":270,"labelAlign":"center","labelBaseline":"bottom","labelFontSize":16,"labelPadding":17,"labelOffset":0,"tickSize":13,"tickColor":"black","tickWidth":1.2,"domain":false}},
"color":{"datum":"Qs_cal","scale":{"domain":["Qs_cal","Qo_cal"],"range":["#ff0000","#000000"]},"legend":{"values":["Qs_cal"],"orient":"none","legendX":499,"legendY":20,"title":null,"symbolType":"M-3,0H3","symbolSize":144,"symbolStrokeWidth":1.6,"labelFontSize":15,"labelOffset":25,"padding":0,"labelColor":"black","labelFont":"Liberation Sans"}},
"strokeDash":{"datum":"Qs_cal","scale":{"domain":["Qo_cal","Qs_cal"],"range":[[2,2],[1,0]]},"legend":{"values":["Qo_cal"],"orient":"none","legendX":499,"legendY":32,"title":null,"symbolType":"M-3,0H3","symbolSize":144,"symbolStrokeWidth":1.6,"symbolStrokeColor":"black","labelFontSize":15,"labelOffset":25,"padding":0,"labelColor":"black","labelFont":"Liberation Sans"}}}},
{"mark":{"type":"point","filled":false,"size":14,"color":"#ff3030","strokeWidth":1,"clip":true},"encoding":{"y":{"field":"Qs_cal","type":"quantitative","axis":null}}},
{"mark":{"type":"point","filled":true,"shape":"diamond","size":45,"color":"#0000ff","opacity":1,"clip":true},"encoding":{"y":{"field":"Qo_cal","type":"quantitative","axis":null}}},
{"mark":{"type":"line","strokeWidth":1.5,"clip":true},"encoding":{"y":{"field":"Qo_cal","type":"quantitative","axis":{"title":null,"values":[0,20,40,60,80,100,120],"labels":false,"grid":true,"gridColor":"#c8c8c8","gridDash":[2,3],"orient":"left","tickSize":13,"tickColor":"black","tickWidth":1.2,"domain":false}},"color":{"datum":"Qo_cal"},"strokeDash":{"datum":"Qo_cal"}}}
],
"resolve":{"axis":{"y":"independent"}}
},
{
"width":142,"height":167,
"view":{"fill":"#e8f6fb","stroke":null},
"data":{"name":"gof2"},
"layer":[
{"layer":[
{"transform":[{"filter":"datum.line == \"GoF's:\""}],"mark":{"type":"text","align":"left","baseline":"middle","fontSize":19,"dx":-32,"dy":-8,"color":"#111"},"encoding":{"y":{"field":"line","type":"nominal","sort":null,"axis":null,"scale":{"type":"point","padding":1}},"text":{"field":"line"}}},
{"transform":[{"filter":"datum.line != \"GoF's:\""}],"mark":{"type":"text","align":"left","baseline":"middle","fontSize":19,"dx":-48,"color":"#111"},"encoding":{"y":{"field":"line","type":"nominal","sort":null,"axis":null},"text":{"field":"line"}}}
]},
{"layer":[
{"mark":{"type":"rule","color":"#444","strokeWidth":2.5},"encoding":{"y":{"datum":1,"type":"quantitative","scale":{"domain":[0,1]},"axis":null}}},
{"mark":{"type":"rule","color":"#444","strokeWidth":2.5},"encoding":{"y":{"datum":0,"type":"quantitative","axis":null}}}
]}
],
"resolve":{"scale":{"y":"independent"}}
}
]
}
